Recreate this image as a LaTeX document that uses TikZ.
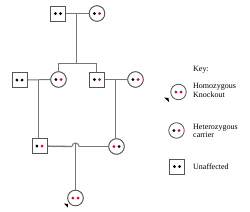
\documentclass[tikz,border=0pt]{standalone}
\usepackage{fontspec}
\setmainfont{Liberation Serif}
\usetikzlibrary{calc}
\definecolor{lg}{HTML}{777777}
\definecolor{og}{HTML}{555555}
\definecolor{dr}{HTML}{C8102E}
\newcommand{\gdots}[3]{%
  \fill[#2] ($(#1)+(-2.6,0)$) circle (1.6);
  \fill[#3] ($(#1)+(2.6,0)$) circle (1.6);}
\begin{document}
\begin{tikzpicture}[x=1pt,y=-1pt,
  male/.style={draw=og,line width=0.8pt,fill=white,minimum size=15pt,inner sep=0pt,rectangle},
  female/.style={draw=og,line width=0.8pt,fill=white,minimum size=15.5pt,inner sep=0pt,circle},
  link/.style={draw=lg,line width=1pt},
  keytxt/.style={font=\fontsize{8}{8.5}\selectfont,align=left,anchor=west,inner sep=0pt}]
\useasboundingbox (0,0) rectangle (250,212);
% nodes
\node[male] (gf) at (58,13.5) {};
\node[female] (gm) at (97,13.5) {};
\node[male] (u1) at (19.5,80) {};
\node[female] (d1) at (58.5,79.5) {};
\node[male] (s1) at (97,79.5) {};
\node[female] (w1) at (135.5,79.5) {};
\node[male] (c1) at (39.5,146) {};
\node[female] (c2) at (116.5,146.5) {};
\node[female] (pb) at (75.5,198) {};
\coordinate (gmid) at (77,13.5);
\coordinate (sib) at (77,63);
\coordinate (sibl) at (58.5,63);
\coordinate (sibr) at (97,63);
\coordinate (m1) at (39,80);
\coordinate (m2) at (116,80);
\coordinate (hopl) at (72,146.5);
\coordinate (hopr) at (79,146.5);
\coordinate (hoptop) at (75.5,143);
% connectors
\draw[link] (gf) -- (gm);
\draw[link] (gmid) -- (sib);
\draw[link] (sibl) -- (sibr);
\draw[link] (sibl) -- (d1);
\draw[link] (sibr) -- (s1);
\draw[link] (u1) -- (d1);
\draw[link] (s1) -- (w1);
\draw[link] (m1) -- (m1 |- c1.north);
\draw[link] (m2) -- (m2 |- c2.north);
\draw[link,line width=1.3pt] (c1) -- (hopl);
\draw[link,line width=1.3pt] (hopr) -- (c2);
\draw[link] (hopl) arc (180:360:3.5);
\draw[link] (hoptop) -- (pb);
% redraw shapes on top
\node[male] at (gf) {}; \node[female] at (gm) {};
\node[male] at (u1) {}; \node[female] at (d1) {};
\node[male] at (s1) {}; \node[female] at (w1) {};
\node[male] at (c1) {}; \node[female] at (c2) {};
\node[female] at (pb) {};
% genotype dots
\gdots{gf}{black}{black}
\gdots{gm}{black}{dr}
\gdots{u1}{black}{black}
\gdots{d1}{black}{dr}
\gdots{s1}{black}{dr}
\gdots{w1}{black}{dr}
\gdots{c1}{black}{dr}
\gdots{c2}{dr}{black}
\gdots{pb}{dr}{dr}
% proband arrow
\fill (64,203.5) -- (67.8,204) -- (68,207.5) -- cycle;
% key
\node[keytxt] (kt) at (193,70) {Key:};
\node[female] (k1) at (178.5,92) {};
\gdots{k1}{dr}{dr}
\fill (164,97.5) -- (168.5,98) -- (169,102) -- cycle;
\node[keytxt] (k1t) at (193,90.5) {Homozygous\\Knockout};
\node[female] (k2) at (176.5,130.5) {};
\gdots{k2}{black}{dr}
\node[keytxt] (k2t) at (193,131) {Heterozygous\\carrier};
\node[male] (k3) at (177,166.5) {};
\gdots{k3}{black}{black}
\node[keytxt] (k3t) at (193,167) {Unaffected};
\end{tikzpicture}
\end{document}
